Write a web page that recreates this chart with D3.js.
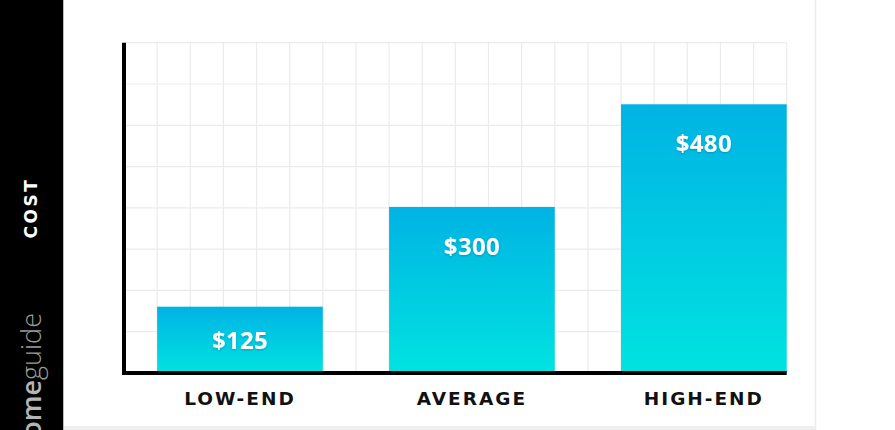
<!DOCTYPE html>
<html>
<head>
<meta charset="utf-8">
<script src="https://cdn.jsdelivr.net/npm/d3@7"></script>
<style>
  html, body { margin: 0; padding: 0; background: #fff; }
  svg { display: block; }
</style>
</head>
<body>
<svg id="chart" width="895" height="430"></svg>
<script>
const categories = ["LOW-END", "AVERAGE", "HIGH-END"];
const costs = [125, 300, 480];
const valueLabels = ["$125", "$300", "$480"];
const yAxisTitle = "COST";
const brandHome = "home";
const brandGuide = "guide";

const W = 895, H = 430;
const plot = { left: 124, right: 786.7, top: 42.7, bottom: 373 };

const svg = d3.select("#chart");
const defs = svg.append("defs");

const grad = defs.append("linearGradient")
  .attr("id", "barGrad").attr("x1", 0).attr("y1", 0).attr("x2", 0).attr("y2", 1);
grad.append("stop").attr("offset", "0%").attr("stop-color", "#00b3e4");
grad.append("stop").attr("offset", "100%").attr("stop-color", "#00e3e0");

const shadow = defs.append("filter").attr("id", "txtShadow")
  .attr("x", "-20%").attr("y", "-20%").attr("width", "140%").attr("height", "140%");
shadow.append("feDropShadow").attr("dx", 0).attr("dy", 1).attr("stdDeviation", 1)
  .attr("flood-color", "#000").attr("flood-opacity", 0.22);

// background
svg.append("rect").attr("x", 0).attr("y", 0).attr("width", W).attr("height", H).attr("fill", "#fff");

// left black strip
svg.append("rect").attr("x", 0).attr("y", 0).attr("width", 63.5).attr("height", H).attr("fill", "#000");
svg.append("line").attr("x1", 63.5).attr("x2", 63.5).attr("y1", 0).attr("y2", H)
  .attr("stroke", "#bdbdbd").attr("stroke-width", 1);

// bottom light strip
svg.append("rect").attr("x", 64).attr("y", 426).attr("width", 815 - 64).attr("height", 4).attr("fill", "#efefef");
// right thin border
svg.append("line").attr("x1", 815.5).attr("x2", 815.5).attr("y1", 0).attr("y2", H)
  .attr("stroke", "#ececec").attr("stroke-width", 1.5);

// scales
const x = d3.scaleBand()
  .domain(categories)
  .range([plot.left, plot.right])
  .paddingInner(2 / 7)
  .paddingOuter(1 / 14)
  .align(1);

const y = d3.scaleLinear()
  .domain([8.7, 588])
  .range([plot.bottom, plot.top]);

// grid
const gx = d3.scaleLinear().domain([0, 20]).range([plot.left, plot.right]);
const gy = d3.scaleLinear().domain([0, 8]).range([plot.bottom, plot.top]);
const grid = svg.append("g").attr("stroke", "#ebebeb").attr("stroke-width", 1.2);
grid.selectAll(".v").data(d3.range(0, 21)).join("line")
  .attr("x1", d => gx(d)).attr("x2", d => gx(d))
  .attr("y1", plot.top).attr("y2", plot.bottom);
grid.selectAll(".h").data(d3.range(0, 9)).join("line")
  .attr("x1", plot.left).attr("x2", plot.right)
  .attr("y1", d => gy(d)).attr("y2", d => gy(d));

// bars
const data = categories.map((c, i) => ({ c, v: costs[i], label: valueLabels[i] }));
svg.append("g").selectAll("rect").data(data).join("rect")
  .attr("x", d => x(d.c))
  .attr("y", d => y(d.v))
  .attr("width", x.bandwidth())
  .attr("height", d => plot.bottom - y(d.v))
  .attr("fill", "url(#barGrad)");

// value labels
svg.append("g").selectAll("text").data(data).join("text")
  .attr("x", d => x(d.c) + x.bandwidth() / 2)
  .attr("y", d => Math.min(y(d.v) + 38.5, (y(d.v) + plot.bottom) / 2))
  .attr("text-anchor", "middle")
  .attr("dominant-baseline", "central")
  .attr("fill", "#fff")
  .attr("font-family", "'Open Sans', sans-serif")
  .attr("font-weight", 700)
  .attr("font-size", 24)
  .attr("letter-spacing", "0.3px")
  .attr("filter", "url(#txtShadow)")
  .text(d => d.label);

// axes lines
svg.append("line")
  .attr("x1", plot.left).attr("x2", plot.left)
  .attr("y1", plot.top).attr("y2", plot.bottom + 2)
  .attr("stroke", "#000").attr("stroke-width", 4);
svg.append("line")
  .attr("x1", plot.left - 1.5).attr("x2", plot.right)
  .attr("y1", plot.bottom).attr("y2", plot.bottom)
  .attr("stroke", "#000").attr("stroke-width", 4);

// x category labels
const xAxis = d3.axisBottom(x).tickSize(0).tickPadding(0);
const xg = svg.append("g").attr("transform", `translate(0,${plot.bottom})`).call(xAxis);
xg.select(".domain").remove();
xg.selectAll("text")
  .attr("y", 26)
  .attr("dy", "0.35em")
  .attr("fill", "#111")
  .attr("font-family", "'DejaVu Sans', sans-serif")
  .attr("font-weight", 700)
  .attr("font-size", 18.5)
  .attr("letter-spacing", "2px");

// left strip texts
svg.append("text")
  .attr("transform", "translate(31,208) rotate(-90)")
  .attr("text-anchor", "middle")
  .attr("dominant-baseline", "central")
  .attr("fill", "#fff")
  .attr("font-family", "'DejaVu Sans', sans-serif")
  .attr("font-weight", 700)
  .attr("font-size", 17)
  .attr("letter-spacing", "2.5px")
  .text(yAxisTitle);

const brand = svg.append("text")
  .attr("transform", "translate(40.5,313) rotate(-90)")
  .attr("text-anchor", "end")
  .attr("font-family", "'Open Sans', sans-serif")
  .attr("font-size", 27);
brand.append("tspan").attr("fill", "#b5b5b5").attr("font-weight", 600).text(brandHome);
brand.append("tspan").attr("fill", "#9a9a9a").attr("font-weight", 300).text(brandGuide);
</script>
</body>
</html>
